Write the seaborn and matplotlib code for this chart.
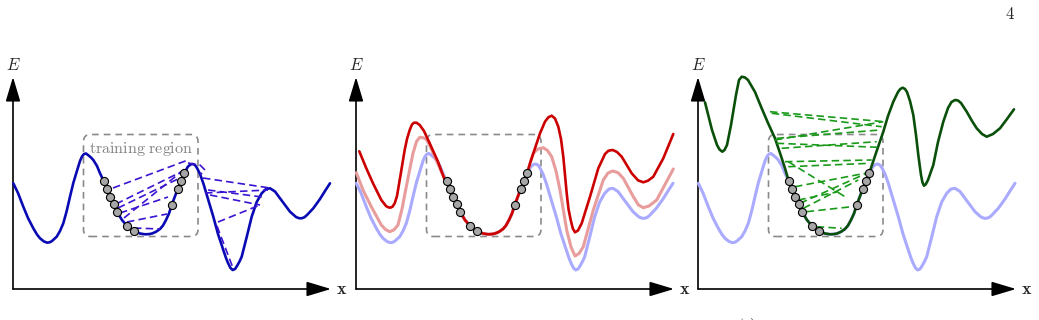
import numpy as np
import seaborn as sns
import matplotlib.pyplot as plt
from matplotlib.patches import FancyBboxPatch

# values are in pixel-like units: u to the right of the E axis, v above the x axis
blue_u = [0.3, 5, 10.3, 15, 20.3, 24, 27, 31, 34.3, 37, 39, 43.7, 47, 50.3, 53.7, 57, 60.3, 63.7, 67,
          69, 71, 73, 75, 78, 80.3, 84, 87, 90.7, 94, 97, 100.7, 104.3, 109, 114.3, 121.3, 127, 132,
          136, 139, 143, 147, 150, 153, 156, 158.7, 164.7, 168, 171.3, 175, 177.5, 179.7, 182, 184,
          187, 190.3, 195, 200.3, 205, 210.3, 213, 215, 217.5, 219.7, 222, 224, 226.5, 228.7, 233.7,
          238.7, 243.7, 248.7, 253, 257, 262, 267, 272, 277, 283, 286, 288.7, 291.5, 294, 300.3, 307,
          312, 317]
blue_v = [105.7, 96, 82.3, 71, 60.7, 54.5, 50.7, 47.5, 46.3, 46.8, 48, 52.3, 58, 65.7, 78, 92.3, 106,
          117.3, 128, 132.5, 135, 135.5, 134, 131.5, 129, 123, 115.7, 108, 100, 92.3, 84.7, 76.7, 69,
          62.7, 58, 55.5, 54.7, 54.9, 55.5, 57.2, 60, 63.5, 69, 75.5, 84, 100, 108, 116, 122.5, 124.5,
          125, 124, 121, 115, 105.7, 90, 72.3, 55, 39, 31, 26, 21, 19, 20, 23, 27.5, 32.3, 52, 72.3,
          87, 95.7, 100, 100.7, 97.5, 90.7, 84, 77.3, 72, 70.8, 70.7, 71.8, 74, 80.7, 90, 98, 105.7]

red_left_u = [3.3, 10.3, 17, 25.3, 30, 32, 34.3, 36.5, 38.7, 41, 43.7, 48.7, 51, 53.7, 56, 58, 60.5,
              63.7, 68, 73.7, 82, 88.7]
red_left_v = [137.7, 120.7, 105.7, 89, 83, 81.8, 81.3, 82.3, 85.7, 93, 109, 139, 150, 159, 164.5,
              166.3, 166.3, 164, 158, 145.7, 127.3, 109]
red_right_u = [174, 179, 184, 189, 192.3, 195.7, 199, 202.3, 205, 207.3, 210.7, 212.5, 214.7, 216.8,
               219, 222, 225.7, 234, 242.3, 249, 252.5, 256.7, 261, 265.7, 275.7, 282, 287.3, 292,
               297.3, 307.3, 317.3]
red_right_v = [125.7, 140.7, 155.7, 167.3, 171.7, 173.3, 170.5, 162.3, 150, 132.3, 95.7, 80, 69, 60.5,
               56.7, 58.5, 65.7, 92.3, 120.7, 135, 138.3, 139, 137, 132.3, 115.7, 108.7, 106.7, 108.3,
               112.3, 130.7, 155]

pink_left_u = [0.3, 7, 15.3, 25.3, 29.5, 33.7, 38, 42, 46, 50.3, 54, 57, 60.5, 63.7, 67, 70.3, 74,
               78.7, 85.3]
pink_left_v = [116.3, 99, 82.3, 64, 59.5, 57.3, 59.2, 64, 80, 102.3, 121, 135.7, 147.5, 151.7, 151.3,
               149.7, 143, 132.3, 117.3]
pink_right_u = [174.5, 177.3, 182, 187.3, 191.5, 195.7, 200, 204, 210.7, 215, 219, 223, 227.3, 237.3,
                247.3, 252, 256.7, 262, 267.3, 277.3, 282.5, 287.3, 293, 300.7, 317.3]
pink_right_v = [127, 135.7, 140, 141.3, 138.5, 132.3, 118, 99, 59, 42, 33, 35.5, 42.3, 79, 109, 116,
                118, 116.3, 110.7, 92.3, 84, 81.3, 83, 89, 120]

green_left_u = [7, 14, 17, 19, 21.5, 24.3, 26.5, 29, 33, 38, 41, 43.7, 47, 50, 57, 63.7, 70, 77, 82, 87]
green_left_v = [186.7, 159, 150, 144, 139.5, 137.3, 139, 144, 164, 194, 209, 212.3, 211.5, 209, 197,
                180.7, 166, 150.7, 136, 120.7]
green_right_u = [178, 185.3, 190, 195.3, 200, 202.3, 204.7, 207, 209, 212, 215.3, 218, 220.3, 223,
                 224.5, 226, 227.8, 230, 235.3, 240, 245.3, 250, 253.5, 257, 260, 263, 268.7, 274,
                 278.7, 284, 288.7, 295, 302, 309, 316]
green_right_v = [136, 157.3, 173, 187.3, 197, 200, 201.3, 200, 197, 188, 174, 154, 134, 114, 106.5,
                 103.3, 104.8, 109, 124, 147, 167.3, 181, 187, 189, 188.5, 186, 177.3, 168, 160.7, 155,
                 152.3, 155, 160.7, 170, 179.7]

# training points
dots_u = [90.7, 93.7, 97, 100.7, 104.3, 114.3, 121.3, 158.7, 164.7, 168, 171.3]
dots_v = [108, 100, 92.3, 84.7, 76.7, 62.7, 58, 84, 100, 108, 116.3]

# dashed trajectories, panel (a)
blue_dash = [
    [(100, 101), (175, 129)], [(103, 85), (172, 119)], [(105, 81), (167, 111)],
    [(107, 76), (155, 92)], [(111, 71), (173, 121)], [(114, 67), (154, 75)],
    [(121, 61), (147, 60)], [(175, 126), (187, 124), (192, 119), (187, 114)],
    [(190, 111), (257, 101)], [(192, 96), (255, 99)], [(195, 99), (249, 92)],
    [(197, 94), (247, 84)], [(205, 67), (247, 84)], [(204, 63), (220, 21)],
]
# dashed trajectories, panel (c)
green_dash = [
    [(72, 177.3), (186.3, 167.3)], [(73.7, 175.7), (183.7, 162.3)], [(77, 149), (185.3, 167.3)],
    [(78.7, 150.7), (182, 159)], [(78.7, 145.7), (180.3, 141.7)], [(83.7, 140.7), (178.7, 147.3)],
    [(87, 127.3), (173.7, 129)], [(90.3, 122.3), (172, 125.7)], [(90.3, 127.3), (147, 92.3)],
    [(97, 102.3), (167, 115.7)], [(102, 85.7), (172, 117.3)], [(105.3, 80.7), (160.3, 109)],
    [(108.7, 77.3), (153.7, 82.3)], [(118.7, 62.3), (143.7, 60.7)], [(100.3, 89), (140.3, 97.3)],
]

panel_x0 = [13, 356, 698]  # pixel position of each E axis

sns.set_style("white")
plt.rcParams['mathtext.fontset'] = 'cm'

blue_u = np.array(blue_u)
blue_v = np.array(blue_v)
mid = (blue_u >= 89) & (blue_u <= 172)
red_u = np.concatenate([red_left_u, blue_u[mid], red_right_u])
red_v = np.concatenate([red_left_v, blue_v[mid], red_right_v])
pink_u = np.concatenate([pink_left_u, blue_u[mid], pink_right_u])
pink_v = np.concatenate([pink_left_v, blue_v[mid], pink_right_v])
green_u = np.concatenate([green_left_u, blue_u[mid], green_right_u])
green_v = np.concatenate([green_left_v, blue_v[mid], green_right_v])

W, H = 1039, 320
fig = plt.figure(figsize=(W / 100, H / 100), dpi=100)

axes = []
for x0 in panel_x0:
    ax = fig.add_axes([(x0 - 13) / W, 0, 342 / W, 1])
    ax.set_xlim(-13, 329)
    ax.set_ylim(-31, 289)
    ax.axis('off')
    axes.append(ax)

arrow = dict(arrowstyle='-|>,head_length=1.0,head_width=0.3', color='k', lw=1.2,
             mutation_scale=15, shrinkA=0, shrinkB=0)


def draw_frame(ax):
    ax.annotate('', xy=(0, 212), xytext=(0, 0), arrowprops=arrow)
    ax.annotate('', xy=(318, 0), xytext=(0, 0), arrowprops=arrow)
    ax.text(0, 224, '$E$', fontsize=12, ha='center', va='center')
    ax.text(329, 0, r'$\mathbf{x}$', fontsize=13, ha='center', va='center')
    box = FancyBboxPatch((70.5, 52.5), 114.5, 102, boxstyle='round,pad=0,rounding_size=7',
                         fill=False, ec='#8a8a8a', lw=1.2, ls=(0, (4, 3)), zorder=2)
    ax.add_patch(box)


def draw_curve(ax, u, v, color, lw):
    sns.lineplot(x=u, y=v, ax=ax, color=color, lw=lw, sort=False, estimator=None, zorder=3,
                 solid_joinstyle='round', solid_capstyle='round')


def draw_dots(ax):
    sns.scatterplot(x=dots_u, y=dots_v, ax=ax, s=34, color='#a6a6a6', edgecolor='black',
                    linewidth=0.8, zorder=6, legend=False)


def draw_dash(ax, segs, color):
    for seg in segs:
        xs = [p[0] for p in seg]
        ys = [p[1] for p in seg]
        ax.plot(xs, ys, color=color, lw=1.2, ls=(0, (4.5, 2.5)), zorder=4)


# (a) true landscape and dynamics
ax = axes[0]
draw_frame(ax)
draw_curve(ax, blue_u, blue_v, '#0a0ab4', 1.9)
draw_dash(ax, blue_dash, '#3c14d2')
ax.text(128.5, 140, r'$\mathrm{training\ region}$', fontsize=11.5, color='#808080',
        ha='center', va='center')
draw_dots(ax)

# (b) learned landscapes
ax = axes[1]
draw_frame(ax)
draw_curve(ax, blue_u, blue_v, '#aaaaff', 2.2)
draw_curve(ax, pink_u, pink_v, '#e89c9c', 2.2)
draw_curve(ax, red_u, red_v, '#cc0000', 1.9)
draw_dots(ax)

# (c) failed model
ax = axes[2]
draw_frame(ax)
draw_curve(ax, blue_u, blue_v, '#aaaaff', 2.2)
draw_curve(ax, green_u, green_v, '#0a500a', 1.9)
draw_dash(ax, green_dash, '#1a9a1a')
draw_dots(ax)

fig.text(1010 / W, 1 - 14 / H, '$4$', fontsize=12, ha='center', va='center')
fig.text(747 / W, 1 - 316 / H, '$(c)$', fontsize=11, ha='center', va='top')

fig.savefig('out.png', dpi=100)
